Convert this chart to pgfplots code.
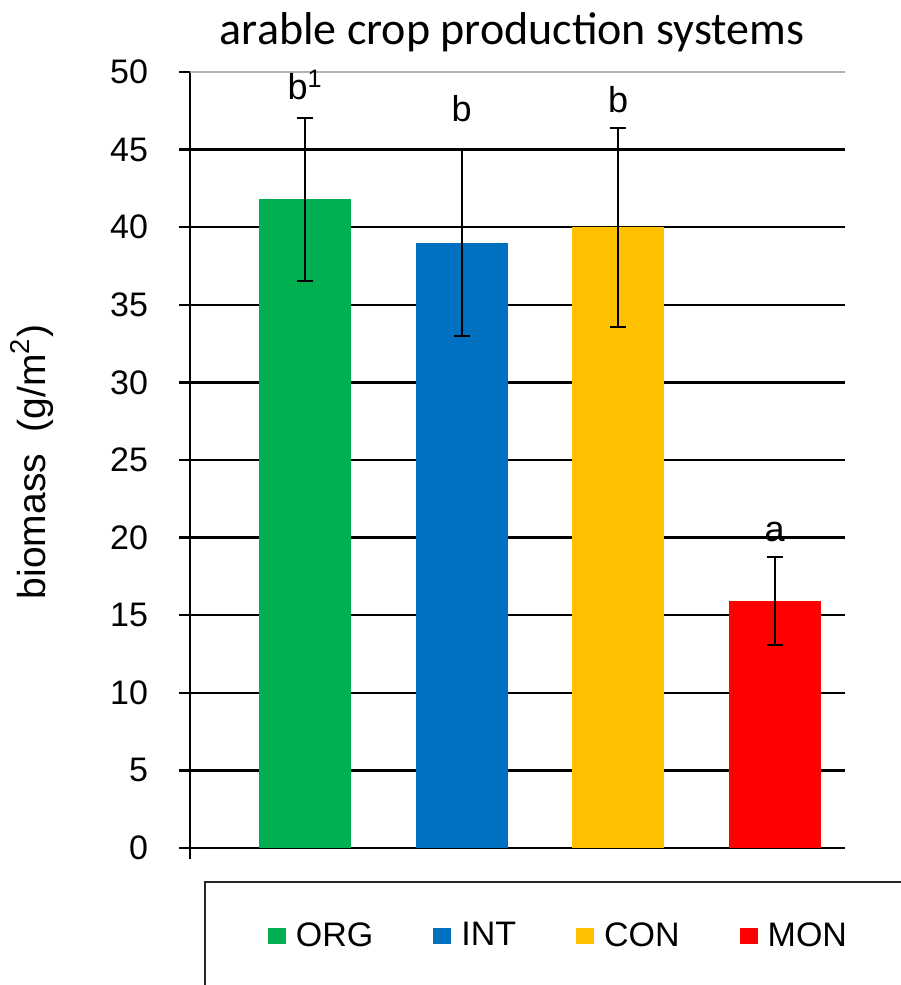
\documentclass[border=0pt]{standalone}
\usepackage{fontspec}
\setmainfont{Liberation Sans}
\newfontfamily\calibri{Carlito}
\usepackage{pgfplots}
\pgfplotsset{compat=1.18}
\definecolor{cORG}{RGB}{0,176,80}
\definecolor{cINT}{RGB}{0,112,192}
\definecolor{cCON}{RGB}{255,192,0}
\definecolor{cMON}{RGB}{255,0,0}
\pgfplotsset{sq/.style={legend image code/.code={\fill (0pt,-4pt) rectangle (9pt,4pt);}}}
\begin{document}
\begin{tikzpicture}
\useasboundingbox (0,0) rectangle (450pt,492.5pt);
\begin{axis}[
  scale only axis, width=327.5pt, height=388pt,
  at={(95pt,68.5pt)}, anchor=south west,
  xmin=-0.735, xmax=3.45, ymin=0, ymax=50,
  axis lines=left, axis line style={-, line width=1.2pt, black},
  xtick={-0.735}, xticklabels={},
  ytick={0,5,...,45}, extra y ticks={50},
  extra y tick style={grid style={line width=1.2pt, gray!60}},
  tick align=outside, major tick length=5.5pt,
  tick style={line width=1.2pt, black},
  ymajorgrids, grid style={line width=1.2pt, black},
  /pgf/number format/assume math mode=true,
  tick label style={font=\fontsize{17}{20}\selectfont},
  yticklabel style={xshift=-12pt},
  ybar, bar width=46pt, bar shift=0pt,
  error bars/y dir=both, error bars/y explicit,
  error bars/error bar style={line width=1pt, black},
  error bars/error mark=-,
  error bars/error mark options={rotate=90, mark size=4pt, line width=1pt, draw=black},
  legend columns=4,
  legend style={draw=none, fill=none, at={(0.119,-0.113)}, anchor=west, inner sep=0pt, outer sep=0pt,
    font=\fontsize{17}{20}\selectfont,
    nodes={inner sep=0pt},
    /tikz/every odd column/.style={column sep=5pt},
    /tikz/every even column/.style={column sep=30pt}},
  clip=false,
]
\addplot[fill=cORG, draw=none, sq] coordinates {(0,41.8) +- (0,5.25)};
\addlegendentry{ORG}
\addplot[fill=cINT, draw=none, sq] coordinates {(1,39.0) +- (0,6.0)};
\addlegendentry{INT}
\addplot[fill=cCON, draw=none, sq] coordinates {(2,40.0) +- (0,6.4)};
\addlegendentry{CON}
\addplot[fill=cMON, draw=none, sq] coordinates {(3,15.9) +- (0,2.85)};
\addlegendentry{MON}
\node[anchor=base, font=\fontsize{18}{21}\selectfont] at (axis cs:0,48.2) {b\textsuperscript{1}};
\node[anchor=base, font=\fontsize{18}{21}\selectfont] at (axis cs:1,46.78) {b};
\node[anchor=base, font=\fontsize{18}{21}\selectfont] at (axis cs:2,47.42) {b};
\node[anchor=base, font=\fontsize{18}{21}\selectfont] at (axis cs:3,19.72) {a};
\end{axis}
\node[anchor=base, font=\calibri\fontsize{23}{27}\selectfont] at (256pt,470pt) {arable crop production systems};
\node[rotate=90, font=\fontsize{19.5}{23}\selectfont] at (16pt,261.5pt) {biomass\ \ (g/m\textsuperscript{2})};
\draw[line width=1pt, black!85] (102.5pt,-10pt) rectangle (470pt,51.5pt);
\end{tikzpicture}
\end{document}
